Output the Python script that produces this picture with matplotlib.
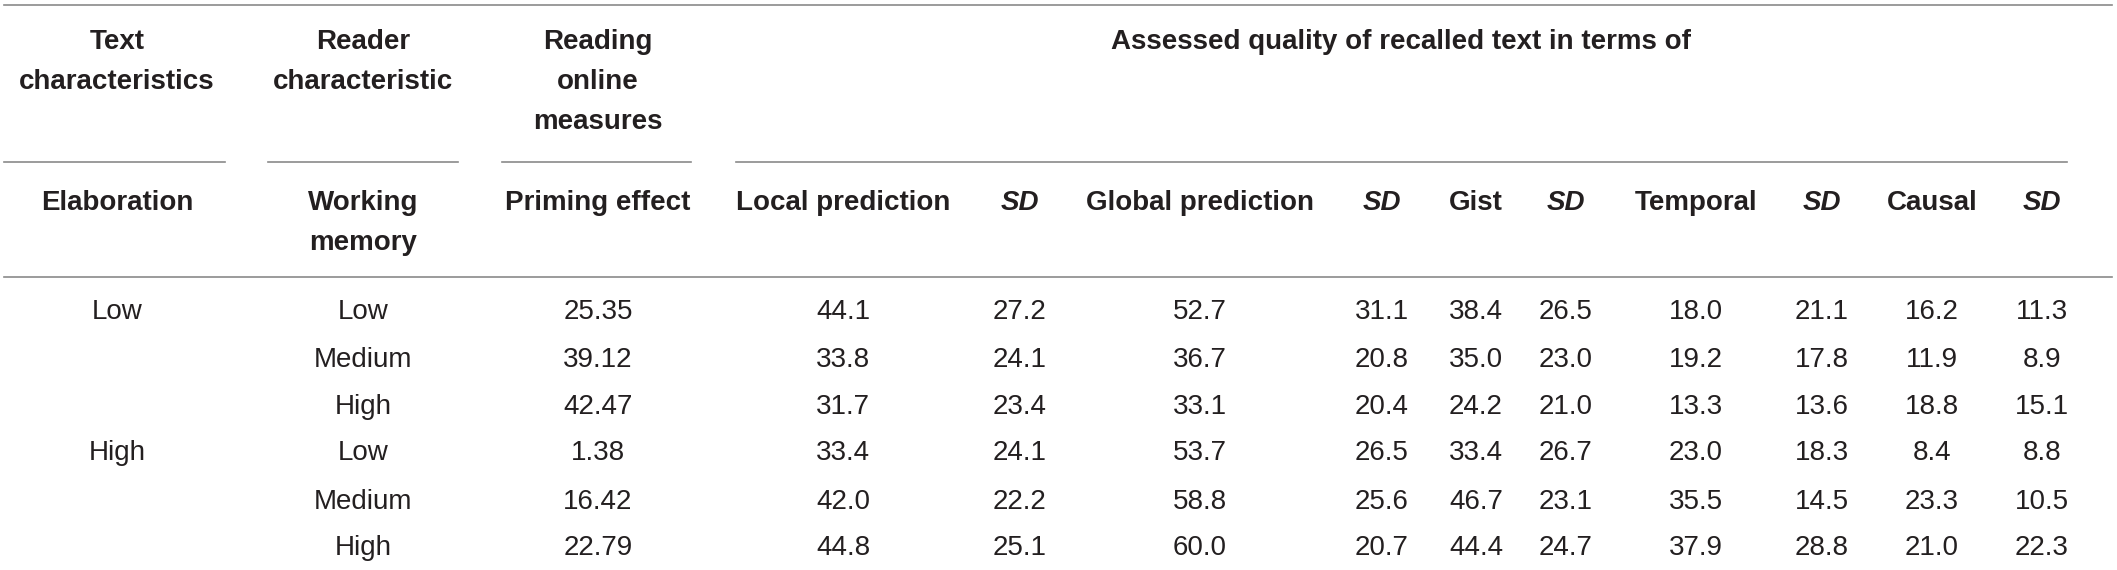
import matplotlib.pyplot as plt

# table content
elaboration = ["Low", "", "", "High", "", ""]
working_memory = ["Low", "Medium", "High", "Low", "Medium", "High"]
priming = [25.35, 39.12, 42.47, 1.38, 16.42, 22.79]
local_pred = [44.1, 33.8, 31.7, 33.4, 42.0, 44.8]
local_sd = [27.2, 24.1, 23.4, 24.1, 22.2, 25.1]
global_pred = [52.7, 36.7, 33.1, 53.7, 58.8, 60.0]
global_sd = [31.1, 20.8, 20.4, 26.5, 25.6, 20.7]
gist = [38.4, 35.0, 24.2, 33.4, 46.7, 44.4]
gist_sd = [26.5, 23.0, 21.0, 26.7, 23.1, 24.7]
temporal = [18.0, 19.2, 13.3, 23.0, 35.5, 37.9]
temporal_sd = [21.1, 17.8, 13.6, 18.3, 14.5, 28.8]
causal = [16.2, 11.9, 18.8, 8.4, 23.3, 21.0]
causal_sd = [11.3, 8.9, 15.1, 8.8, 10.5, 22.3]

group_headers = [["Text", "characteristics"],
                 ["Reader", "characteristic"],
                 ["Reading", "online", "measures"],
                 ["Assessed quality of recalled text in terms of"]]
col_headers = [["Elaboration"], ["Working", "memory"], ["Priming effect"],
               ["Local prediction"], ["SD"], ["Global prediction"], ["SD"],
               ["Gist"], ["SD"], ["Temporal"], ["SD"], ["Causal"], ["SD"]]

# layout (pixels)
W, H = 2117, 570
col_x = [117, 363, 598, 843, 1020, 1200, 1382, 1476, 1566, 1696, 1822, 1932, 2042]
group_x = [117, 363, 598, 1401]
group_rule = [(4, 225), (268, 458), (502, 691), (736, 2067)]
row_y = [312, 360, 407, 453, 502, 548]
line_gap = 40

txt_col = "#231f20"
rule_col = "#8a8a8a"
fs = 20

plt.rcParams["font.family"] = ["Liberation Sans", "DejaVu Sans"]

fig = plt.figure(figsize=(W / 100, H / 100), dpi=100)
ax = fig.add_axes([0, 0, 1, 1])
ax.set_xlim(0, W)
ax.set_ylim(H, 0)
ax.axis("off")

# rules
ax.plot([4, 2112], [5, 5], color=rule_col, lw=1.2)
for x0, x1 in group_rule:
    ax.plot([x0, x1], [162, 162], color=rule_col, lw=1.2)
ax.plot([4, 2112], [277, 277], color=rule_col, lw=1.2)

# group headers
for x, lines in zip(group_x, group_headers):
    for k, s in enumerate(lines):
        ax.text(x, 42 + k * line_gap, s, ha="center", va="center",
                fontsize=fs, fontweight="bold", color=txt_col)

# column headers
for x, lines in zip(col_x, col_headers):
    for k, s in enumerate(lines):
        style = "italic" if s == "SD" else "normal"
        ax.text(x, 203 + k * line_gap, s, ha="center", va="center",
                fontsize=fs, fontweight="bold", fontstyle=style, color=txt_col)

# body
columns = [elaboration, working_memory,
           ["%.2f" % v for v in priming]]
for series in [local_pred, local_sd, global_pred, global_sd, gist, gist_sd,
               temporal, temporal_sd, causal, causal_sd]:
    columns.append(["%.1f" % v for v in series])

for x, vals in zip(col_x, columns):
    for y, s in zip(row_y, vals):
        ax.text(x, y, s, ha="center", va="center", fontsize=fs,
                color=txt_col)

fig.savefig("out.png", dpi=100)
